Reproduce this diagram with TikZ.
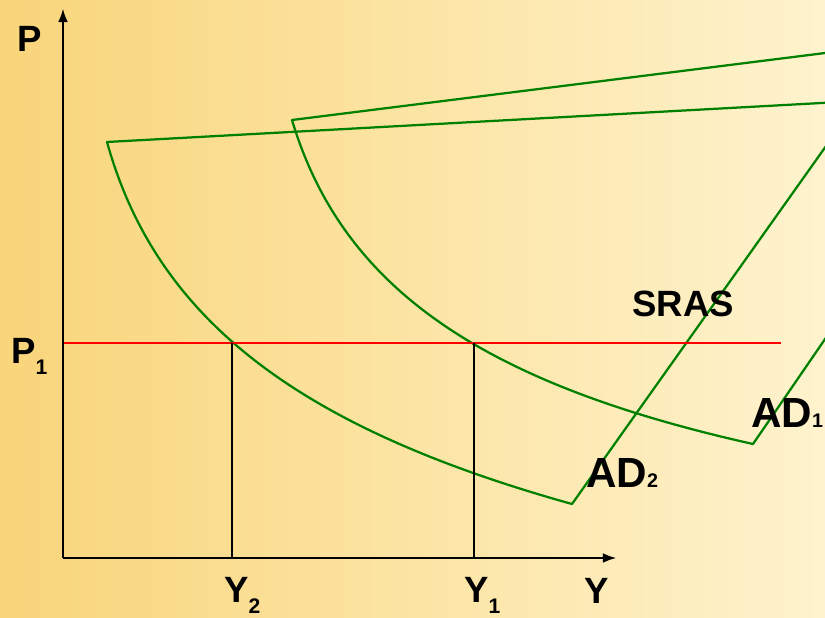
\documentclass[tikz,border=0pt]{standalone}
\usepackage{fontspec}
\setmainfont{Liberation Sans}
\usetikzlibrary{arrows.meta}

\definecolor{bgleft}{RGB}{249,213,122}
\definecolor{bgright}{RGB}{254,243,206}
\definecolor{adgreen}{RGB}{0,128,0}

\newcommand{\lowsub}[1]{\raisebox{-8pt}{\fontsize{15}{15}\selectfont #1}}
\newcommand{\adsub}[1]{{\fontsize{14}{14}\selectfont #1}}

\tikzset{
  axislabel/.style={inner sep=0, anchor=base west, font=\fontsize{26}{26}\selectfont\bfseries},
  curvelabel/.style={inner sep=0, anchor=base west, font=\fontsize{30}{30}\selectfont\bfseries},
  adline/.style={draw=adgreen, line width=1.6pt},
}

\begin{document}
\begin{tikzpicture}[x=0.025cm, y=-0.025cm, line join=round, line cap=round]

    % Canvas
    \useasboundingbox (0,0) rectangle (825,618);
    \clip (0,0) rectangle (825,618);

    % Background Fill
    \shade[left color=bgleft, right color=bgright] (0,0) rectangle (825,618);

    % Coordinates
    \coordinate (O) at (63,558);
    \coordinate (Ptop) at (63,8);
    \coordinate (Yend) at (617,558);
    \coordinate (Pa) at (63,343);
    \coordinate (Pb) at (781,343);
    \coordinate (Yii) at (232,343);
    \coordinate (Yiib) at (232,558);
    \coordinate (Yi) at (474,343);
    \coordinate (Yib) at (474,558);

    % Corners of the two sectors
    \coordinate (Aii) at (107,142);
    \coordinate (Bii) at (572,504);
    \coordinate (Ai) at (292,120);
    \coordinate (Bi) at (753,444);

    % Centres of the two sectors, off the canvas
    \coordinate (Cii) at (858,101);
    \coordinate (Ci) at (1040,26);

    % AD2 sector
    \draw[adline] (Aii) .. controls (156,318) and (296,427) .. (Bii) -- (Cii) -- cycle;

    % AD1 sector
    \draw[adline] (Ai) .. controls (342,287) and (480,383) .. (Bi) -- (Ci) -- cycle;

    % Price level P1
    \draw[red, line width=1.4pt, line cap=butt] (Pa) -- (Pb);

    % Output levels
    \draw[line width=1.4pt, line cap=butt] (Yii) -- (Yiib);
    \draw[line width=1.4pt, line cap=butt] (Yi) -- (Yib);

    % Axes
    \draw[-{Latex[length=10pt, width=7pt]}, line width=2pt, line cap=butt] (O) -- (Ptop);
    \draw[-{Latex[length=10pt, width=7pt]}, line width=2pt, line cap=butt] (O) -- (Yend);

    % Labels
    \node[axislabel] (lP)    at (17,52)   {P};
    \node[axislabel] (lP1)   at (11,363)  {P\lowsub{1}};
    \node[axislabel] (lY2)   at (224,602) {Y\lowsub{2}};
    \node[axislabel] (lY1)   at (464,602) {Y\lowsub{1}};
    \node[axislabel] (lY)    at (584,603) {Y};
    \node[axislabel] (lSRAS) at (632,316) {SRAS};
    \node[curvelabel] (lAD1) at (751,427) {AD\adsub{1}};
    \node[curvelabel] (lAD2) at (586,487) {AD\adsub{2}};

\end{tikzpicture}
\end{document}
